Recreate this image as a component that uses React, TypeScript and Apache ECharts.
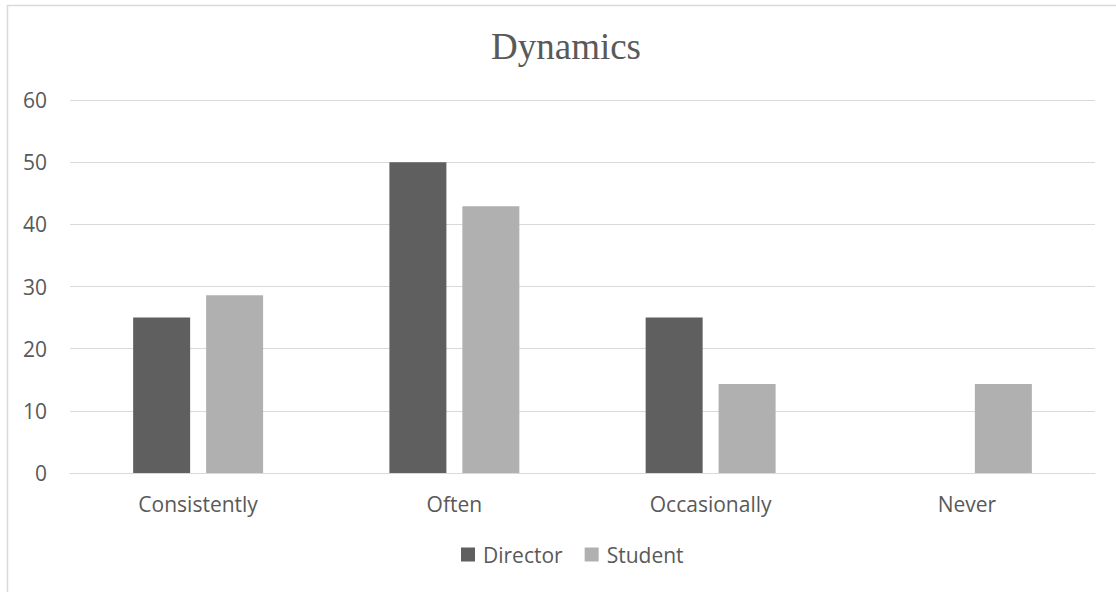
import React, { useEffect, useRef } from "react";
import * as echarts from "echarts";

const categories = ["Consistently", "Often", "Occasionally", "Never"];
const directorValues = [25, 50, 25, 0];
const studentValues = [28.6, 42.9, 14.3, 14.3];
const yTicks = { min: 0, max: 60, interval: 10 };

export default function App() {
  const ref = useRef<HTMLDivElement>(null);
  useEffect(() => {
    if (!ref.current) return;
    const chart = echarts.init(ref.current, null, { renderer: "svg" });
    const font = "'Open Sans', Lato, sans-serif";
    chart.setOption({
      animation: false,
      backgroundColor: "#ffffff",
      title: {
        text: "Dynamics",
        left: 486,
        top: 23,
        textStyle: { fontFamily: "'Liberation Serif', 'DejaVu Serif', serif", fontSize: 37, fontWeight: "normal", color: "#595959" },
      },
      graphic: [
        {
          type: "rect",
          shape: { x: 7.5, y: 5.5, width: 1200, height: 700 },
          style: { fill: "none", stroke: "#d9d9d9", lineWidth: 1.5 },
          silent: true,
        },
      ],
      legend: {
        bottom: 22,
        left: 456,
        itemWidth: 14,
        itemHeight: 14,
        itemGap: 22,
        icon: "rect",
        textStyle: { fontFamily: font, fontSize: 21, color: "#595959", padding: [0, 0, 0, 3] },
        data: ["Director", "Student"],
      },
      grid: { left: 70, right: 21, top: 100, bottom: 119, containLabel: false },
      xAxis: {
        type: "category",
        data: categories,
        axisLine: { lineStyle: { color: "#d9d9d9", width: 1 } },
        axisTick: { show: false },
        axisLabel: { fontFamily: font, fontSize: 21, color: "#595959", margin: 20 },
      },
      yAxis: {
        type: "value",
        min: yTicks.min,
        max: yTicks.max,
        interval: yTicks.interval,
        axisLine: { show: false },
        axisTick: { show: false },
        splitLine: { lineStyle: { color: "#d9d9d9", width: 1 } },
        axisLabel: { fontFamily: font, fontSize: 21, color: "#595959", margin: 23 },
      },
      series: [
        {
          name: "Director",
          type: "bar",
          data: directorValues,
          barWidth: 57,
          barGap: "28%",
          itemStyle: { color: "#5f5f5f" },
        },
        {
          name: "Student",
          type: "bar",
          data: studentValues,
          barWidth: 57,
          itemStyle: { color: "#b0b0b0" },
        },
      ],
    });
    return () => chart.dispose();
  }, []);
  return <div ref={ref} style={{ position: "fixed", left: 0, top: 0, width: 1116, height: 592 }} />;
}
